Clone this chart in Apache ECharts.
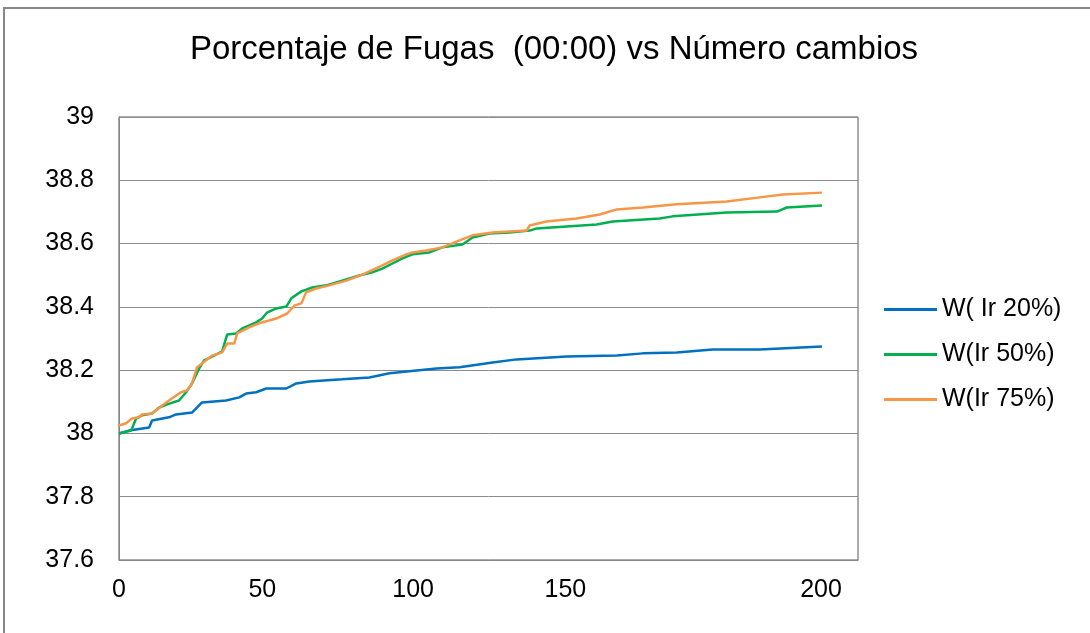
<!DOCTYPE html>
<html>
<head>
<meta charset="utf-8">
<script src="https://cdn.jsdelivr.net/npm/echarts@6/dist/echarts.min.js"></script>
<style>
  html, body { margin: 0; padding: 0; background: #fff; }
  #chart { width: 1090px; height: 633px; }
</style>
</head>
<body>
<div id="chart"></div>
<script>
// x positions along the category axis (0..250) and the values
const xTickPos = [0, 48.5, 99.5, 151, 237.5];
const xTickLabels = ['0', '50', '100', '150', '200'];
const yTicks = [37.6, 37.8, 38, 38.2, 38.4, 38.6, 38.8, 39];

const seriesNames = ['W( Ir 20%)', 'W(Ir 50%)', 'W(Ir 75%)'];
const seriesColors = ['#0070c0', '#00b050', '#f79646'];

const lr20X = [0, 3.4, 10.2, 11.2, 16.9, 19.3, 24.7, 28.1, 36.2, 40.7, 43.0, 46.4, 49.8, 56.6, 60.0, 64.4, 75.5, 84.7,
  91.5, 107.4, 115.2, 126.4, 134.5, 151.4, 168.4, 177.2, 188.7, 200.9, 216.8, 237.8];
const lr20Y = [38.000, 38.009, 38.019, 38.041, 38.051, 38.060, 38.066, 38.098, 38.104, 38.114, 38.126, 38.130, 38.142,
  38.142, 38.158, 38.164, 38.171, 38.177, 38.190, 38.205, 38.209, 38.224, 38.234, 38.243, 38.246, 38.253, 38.256,
  38.265, 38.265, 38.275];

const lr50X = [0, 4.1, 5.8, 7.8, 11.2, 13.6, 16.3, 20.3, 22.7, 24.7, 27.1, 28.8, 31.5, 34.9, 36.6, 39.6, 41.7, 46.4,
  48.4, 50.1, 53.2, 56.6, 58.3, 61.7, 65.4, 70.1, 75.5, 81.3, 85.7, 89.1, 92.5, 95.9, 99.3, 105.0, 109.4, 116.2,
  119.6, 125.3, 132.1, 138.9, 141.3, 151.4, 161.6, 167.0, 182.9, 187.3, 205.6, 222.6, 225.9, 237.8];
const lr50Y = [38.000, 38.009, 38.047, 38.057, 38.063, 38.082, 38.092, 38.104, 38.130, 38.158, 38.205, 38.231, 38.243,
  38.259, 38.313, 38.316, 38.332, 38.351, 38.363, 38.382, 38.395, 38.401, 38.427, 38.449, 38.461, 38.468, 38.483,
  38.499, 38.509, 38.521, 38.537, 38.553, 38.566, 38.572, 38.588, 38.597, 38.619, 38.632, 38.635, 38.641, 38.648,
  38.654, 38.660, 38.670, 38.679, 38.686, 38.698, 38.701, 38.714, 38.720];

const lr75X = [0, 2.4, 4.4, 6.8, 7.8, 11.2, 14.6, 18.0, 21.0, 23.0, 24.7, 26.4, 28.1, 31.5, 34.9, 36.6, 39.0, 40.0,
  44.0, 47.4, 53.2, 56.9, 59.3, 61.7, 63.3, 66.7, 71.1, 76.9, 82.3, 89.1, 92.5, 97.2, 99.3, 104.0, 109.4, 115.2,
  119.6, 126.4, 137.9, 138.9, 144.6, 154.8, 162.6, 168.4, 177.2, 188.7, 205.6, 216.8, 224.6, 237.8];
const lr75Y = [38.025, 38.032, 38.047, 38.051, 38.060, 38.063, 38.088, 38.111, 38.130, 38.136, 38.158, 38.209, 38.221,
  38.246, 38.256, 38.284, 38.284, 38.316, 38.335, 38.348, 38.363, 38.379, 38.404, 38.411, 38.446, 38.458, 38.468,
  38.483, 38.502, 38.531, 38.547, 38.566, 38.572, 38.578, 38.588, 38.610, 38.626, 38.635, 38.641, 38.657, 38.670,
  38.679, 38.692, 38.708, 38.714, 38.724, 38.733, 38.746, 38.755, 38.761];

const xs = [lr20X, lr50X, lr75X];
const ys = [lr20Y, lr50Y, lr75Y];

const font = "'Liberation Sans', Arial, sans-serif";
const chart = echarts.init(document.getElementById('chart'));

chart.setOption({
  backgroundColor: '#fff',
  animation: false,
  title: {
    text: 'Porcentaje de Fugas  (00:00) vs Número cambios',
    left: 549,
    textAlign: 'center',
    top: 28,
    textStyle: { fontFamily: font, fontSize: 33, fontWeight: 'normal', color: '#000' }
  },
  graphic: [{
    type: 'rect',
    shape: { x: 4, y: 8, width: 1200, height: 700 },
    style: { fill: 'none', stroke: '#868686', lineWidth: 2 },
    silent: true
  }],
  legend: {
    orient: 'vertical',
    left: 879,
    top: 292,
    itemWidth: 53,
    itemHeight: 3,
    itemGap: 20,
    icon: 'rect',
    data: seriesNames,
    textStyle: { fontFamily: font, fontSize: 25, color: '#000' }
  },
  grid: {
    left: 119, top: 117, right: 232, bottom: 73,
    show: true, borderColor: '#595959', borderWidth: 1
  },
  xAxis: {
    type: 'value',
    min: 0,
    max: 250,
    axisLine: { show: true, lineStyle: { color: '#868686', width: 1 } },
    axisTick: { show: false },
    splitLine: { show: false },
    axisLabel: {
      customValues: xTickPos,
      formatter: v => xTickLabels[xTickPos.indexOf(v)],
      fontFamily: font, fontSize: 25, color: '#000', margin: 18
    }
  },
  yAxis: {
    type: 'value',
    min: yTicks[0],
    max: yTicks[yTicks.length - 1],
    interval: 0.2,
    axisLine: { show: true, lineStyle: { color: '#868686', width: 1 } },
    axisTick: { show: false },
    splitLine: { show: true, lineStyle: { color: '#8c8c8c', width: 1 } },
    axisLabel: {
      fontFamily: font, fontSize: 25, color: '#000', margin: 25,
      formatter: v => String(Math.round(v * 10) / 10)
    }
  },
  series: seriesNames.map((name, i) => ({
    name,
    type: 'line',
    showSymbol: false,
    symbol: 'none',
    color: seriesColors[i],
    lineStyle: { width: 2.5, color: seriesColors[i] },
    data: xs[i].map((x, j) => [x, ys[i][j]])
  }))
});
</script>
</body>
</html>
